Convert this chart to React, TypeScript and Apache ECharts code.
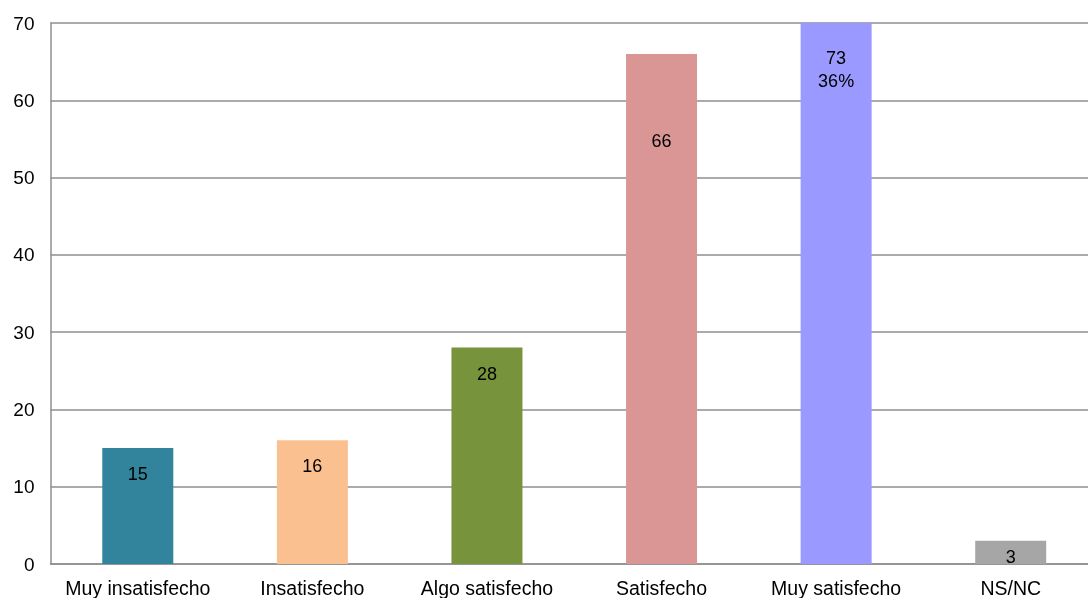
import React, { useEffect, useRef } from "react";
import * as echarts from "echarts";

const categories = [
  "Muy insatisfecho",
  "Insatisfecho",
  "Algo satisfecho",
  "Satisfecho",
  "Muy satisfecho",
  "NS/NC",
];
const values = [15, 16, 28, 66, 73, 3];
const percentLabels = ["", "", "", "", "36%", ""];
const barColors = ["#31849B", "#FAC090", "#77933C", "#D99694", "#9999FF", "#A6A6A6"];
const yTicks = { min: 0, max: 70, interval: 10 };

// label offsets from bar top (styling only)
const labelDistances = [14.5, 14.5, 15, 75.5, 23.5, 4.5];

export default function App() {
  const ref = useRef<HTMLDivElement>(null);
  useEffect(() => {
    if (!ref.current) return;
    const chart = echarts.init(ref.current, undefined, { renderer: "svg" });
    const font = "'Liberation Sans', Arial, sans-serif";
    chart.setOption({
      animation: false,
      grid: { left: 50.5, right: 2, top: 23, bottom: 32, containLabel: false },
      xAxis: {
        type: "category",
        data: categories,
        axisLine: { show: true, lineStyle: { color: "#8f8f8f", width: 1.5 } },
        axisTick: { show: false },
        axisLabel: {
          color: "#000",
          fontFamily: font,
          fontSize: 19.5,
          margin: 14,
          interval: 0,
        },
        splitLine: { show: false },
      },
      yAxis: {
        type: "value",
        min: yTicks.min,
        max: yTicks.max,
        interval: yTicks.interval,
        axisLine: { show: true, lineStyle: { color: "#8f8f8f", width: 1.5 } },
        axisTick: { show: false },
        axisLabel: {
          color: "#000",
          fontFamily: font,
          fontSize: 19,
          margin: 16,
          padding: [3, 0, 0, 0],
        },
        splitLine: { show: true, lineStyle: { color: "#8f8f8f", width: 1.5 } },
      },
      series: [
        {
          type: "bar",
          barWidth: 71,
          clip: true,
          data: values.map((v, i) => ({
            value: v,
            itemStyle: { color: barColors[i] },
            label: {
              show: true,
              position: "insideTop",
              distance: labelDistances[i],
              formatter: percentLabels[i] ? `${v}\n${percentLabels[i]}` : `${v}`,
              color: "#000",
              fontFamily: font,
              fontSize: 18,
              lineHeight: 23,
            },
          })),
        },
      ],
    });
    return () => chart.dispose();
  }, []);
  return (
    <div style={{ position: "fixed", left: 0, top: 0, width: 1088, height: 598, overflow: "hidden" }}>
      <div ref={ref} style={{ width: 1100, height: 598 }} />
    </div>
  );
}
